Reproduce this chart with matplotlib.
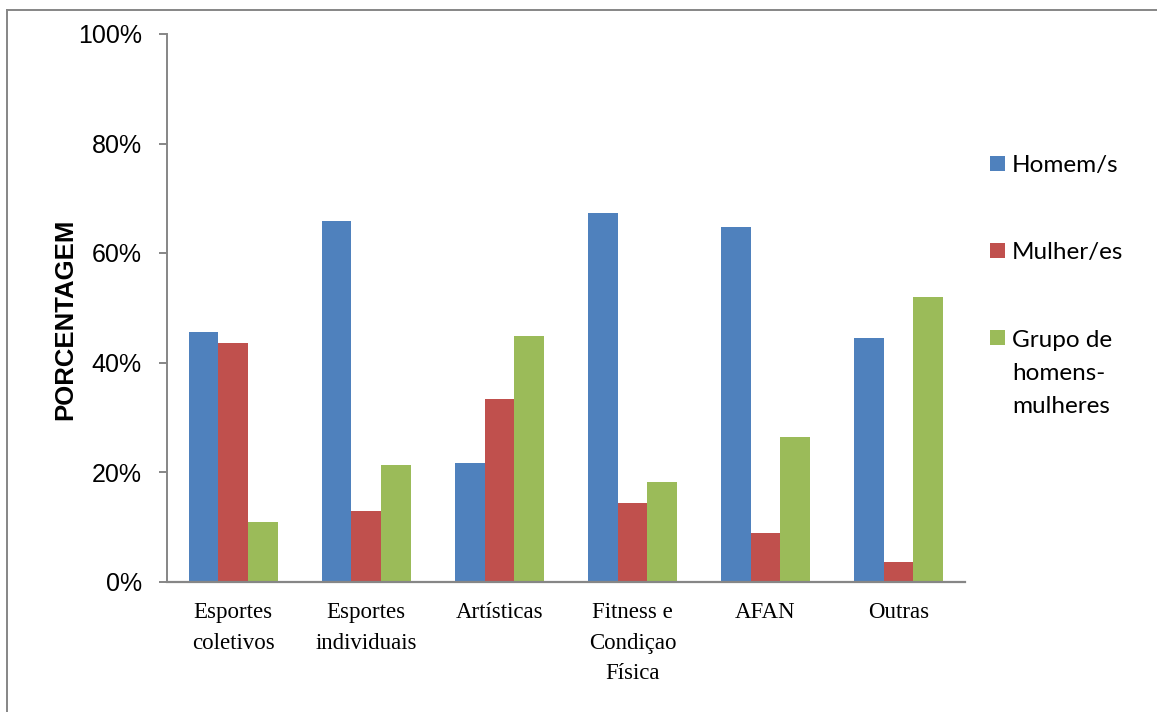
"""Grouped bar chart: percentage of activity type by group composition."""

import matplotlib

matplotlib.use("Agg")
import matplotlib.pyplot as plt
import numpy as np
from matplotlib.lines import Line2D
from matplotlib.patches import Rectangle
from matplotlib.ticker import MultipleLocator, PercentFormatter

categories = [
    "Esportes\ncoletivos",
    "Esportes\nindividuais",
    "Artísticas",
    "Fitness e\nCondiçao\nFísica",
    "AFAN",
    "Outras",
]
series_names = ["Homem/s", "Mulher/es", "Grupo de\nhomens-\nmulheres"]
homens = [0.456, 0.658, 0.216, 0.673, 0.647, 0.444]
mulheres = [0.435, 0.129, 0.333, 0.144, 0.088, 0.036]
grupo = [0.108, 0.213, 0.448, 0.182, 0.264, 0.519]
colors = ["#4F81BD", "#C0504D", "#9BBB59"]

W, H = 1157, 712
DPI = 100
AXIS_GREY = "#868686"

fig = plt.figure(figsize=(W / DPI, H / DPI), dpi=DPI)
ax = fig.add_axes([166.7 / W, 1 - 581.5 / H, (965 - 166.7) / W, (581.5 - 34) / H])

x = np.arange(len(categories))
bar_w = 0.2225
for k, (vals, col) in enumerate(zip([homens, mulheres, grupo], colors)):
    ax.bar(x + (k - 1) * bar_w, vals, width=bar_w, color=col, linewidth=0)

ax.set_xlim(-0.5, len(categories) - 0.5)
ax.set_ylim(0, 1)
ax.yaxis.set_major_locator(MultipleLocator(0.2))
ax.yaxis.set_major_formatter(PercentFormatter(1.0, decimals=0))

for side in ("top", "right"):
    ax.spines[side].set_visible(False)
ax.spines["left"].set_color(AXIS_GREY)
ax.spines["left"].set_linewidth(1.4)
ax.spines["bottom"].set_color(AXIS_GREY)
ax.spines["bottom"].set_linewidth(1.6)

ax.tick_params(axis="y", length=6, width=1.4, color=AXIS_GREY, pad=12,
               labelsize=18, labelfontfamily="Liberation Sans")
ax.set_xticks(x)
ax.set_xticklabels(categories, fontsize=16.5, family="Liberation Serif",
                   linespacing=1.58)
ax.tick_params(axis="x", length=0, pad=15)

ax.set_ylabel("PORCENTAGEM", fontsize=18.5, fontweight="bold",
              family="Liberation Sans")
ax.yaxis.set_label_coords(-0.112, 0.478)

# legend drawn by hand so the marker sits on the first text line
leg_y = [163.5, 250.5, 337.5]
line_pitch = 33.5
for name, col, yc in zip(series_names, colors, leg_y):
    fig.add_artist(Rectangle((990 / W, 1 - (yc + 7.5) / H), 15 / W, 15 / H,
                             transform=fig.transFigure, color=col, lw=0))
    last_base = yc + 8.5 + name.count("\n") * line_pitch
    fig.text(1012 / W, 1 - last_base / H, name, fontsize=17.5, family="Lato",
             va="baseline", ha="left", linespacing=1.71)

# outer chart frame (left and top edges visible)
fig.add_artist(Line2D([7 / W, 7 / W], [0, 1 - 9.5 / H], transform=fig.transFigure,
                      color=AXIS_GREY, lw=1.4))
fig.add_artist(Line2D([7 / W, 1], [1 - 9.5 / H, 1 - 9.5 / H],
                      transform=fig.transFigure, color=AXIS_GREY, lw=1.4))

fig.savefig("out.png", dpi=DPI)
